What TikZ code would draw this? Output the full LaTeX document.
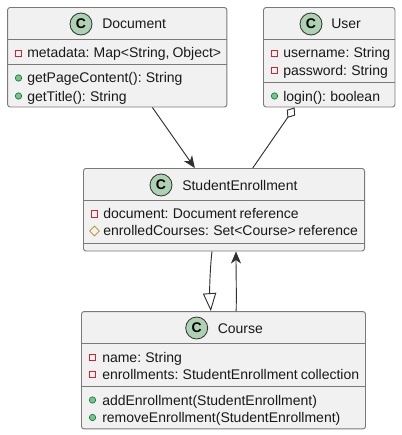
\documentclass[tikz,border=0pt]{standalone}
\usepackage{fontspec}
\setmainfont{Liberation Sans}
\newfontfamily\memberfam[WordSpace=0.75]{Liberation Sans}
\usetikzlibrary{arrows.meta, shapes.geometric}
\definecolor{boxfill}{HTML}{F1F1F1}
\definecolor{boxline}{HTML}{7A7A7A}
\definecolor{spotfill}{HTML}{ADD1B2}
\definecolor{privred}{HTML}{C82930}
\definecolor{pubgreen}{HTML}{84BE84}
\definecolor{publine}{HTML}{038048}
\definecolor{protgold}{HTML}{B38D22}
\definecolor{linkcol}{HTML}{303030}
\begin{document}
\begin{tikzpicture}[x=0.75pt, y=-0.75pt,
  main/.style = {draw=boxline, fill=boxfill, line width=0.7pt, rounded corners=1.9pt, inner sep=0pt},
  sep/.style = {draw=boxline, line width=0.7pt},
  spot/.style = {draw=linkcol, fill=spotfill, circle, line width=0.6pt, minimum size=16.5pt, inner sep=0pt, font=\fontsize{10.5}{12}\bfseries},
  title/.style = {anchor=base west, inner sep=0pt, text=black!90, font=\fontsize{10.5}{12}\selectfont},
  member/.style = {anchor=base west, inner sep=0pt, text=black!90, font=\memberfam\fontsize{10.5}{12}\selectfont},
  priv/.style = {draw=privred, rectangle, line width=0.6pt, minimum size=4.8pt, inner sep=0pt},
  pub/.style = {draw=publine, fill=pubgreen, circle, line width=0.5pt, minimum size=4.8pt, inner sep=0pt},
  prot/.style = {draw=protgold, diamond, aspect=1, line width=0.6pt, minimum size=7.5pt, inner sep=0pt},
  link/.style = {draw=linkcol, line width=0.7pt}]
\useasboundingbox (0,0) rectangle (401,435);

\node[main, minimum width=164.5pt, minimum height=74.6pt] (doc) at (117.25,57.25) {};
\node[spot] (docC) at (81,24) {C};
\node[title] (docT) at (102,29) {Document};
\draw[sep] (doc.west |- 0,39.5) -- (doc.east |- 0,39.5);
\node[priv] (doc1) at (18.5,53.5) {};
\node[member] (docM) at (27,58) {metadata: Map<String, Object>};
\draw[sep] (doc.west |- 0,64.5) -- (doc.east |- 0,64.5);
\node[pub] (doc2) at (18.5,78) {};
\node[member] (docP) at (27,83) {getPageContent(): String};
\node[pub] (doc3) at (18.5,96) {};
\node[member] (docG) at (27,101) {getTitle(): String};

\node[main, minimum width=98.6pt, minimum height=74.6pt] (usr) at (329.25,57.25) {};
\node[spot] (usrC) at (311,24) {C};
\node[title] (usrT) at (331,29) {User};
\draw[sep] (usr.west |- 0,39.5) -- (usr.east |- 0,39.5);
\node[priv] (usr1) at (274.5,53.5) {};
\node[member] (usrN) at (283,58) {username: String};
\node[priv] (usr2) at (274.5,70.5) {};
\node[member] (usrW) at (283,75) {password: String};
\draw[sep] (usr.west |- 0,82) -- (usr.east |- 0,82);
\node[pub] (usr3) at (274.5,96) {};
\node[member] (usrL) at (283,101) {login(): boolean};

\node[main, minimum width=210.8pt, minimum height=61.9pt] (enr) at (224,209.75) {};
\node[spot] (enrC) at (161,185) {C};
\node[title] (enrT) at (182,190) {StudentEnrollment};
\draw[sep] (enr.west |- 0,200.5) -- (enr.east |- 0,200.5);
\node[priv] (enr1) at (94.5,214) {};
\node[member] (enrD) at (103,218.5) {document: Document reference};
\node[prot] (enr2) at (94.5,231) {};
\node[member] (enrS) at (103,235.5) {enrolledCourses: Set<Course> reference};
\draw[sep] (enr.west |- 0,243) -- (enr.east |- 0,243);

\node[main, minimum width=213pt, minimum height=88pt] (crs) at (223.5,370.25) {};
\node[spot] (crsC) at (196.7,328) {C};
\node[title] (crsT) at (217.5,333) {Course};
\draw[sep] (crs.west |- 0,343.5) -- (crs.east |- 0,343.5);
\node[priv] (crs1) at (92.5,357.5) {};
\node[member] (crsN) at (102,362) {name: String};
\node[priv] (crs2) at (92.5,374.5) {};
\node[member] (crsE) at (102,379) {enrollments: StudentEnrollment collection};
\draw[sep] (crs.west |- 0,386) -- (crs.east |- 0,386);
\node[pub] (crs3) at (92.5,400) {};
\node[member] (crsA) at (102,405) {addEnrollment(StudentEnrollment)};
\node[pub] (crs4) at (92.5,417.5) {};
\node[member] (crsR) at (102,422.5) {removeEnrollment(StudentEnrollment)};

\draw[link, -{Stealth[length=9pt, width=7.5pt, inset=2.6pt]}] (doc) -- (enr);
\draw[link, {Diamond[open, fill=white, length=9.5pt, width=7.5pt]}-] (usr) -- (enr);
\draw[link, -{Triangle[open, fill=white, length=13.5pt, width=10pt]}]
  ([xshift=-9pt]enr.south) .. controls +(-1.5pt,-12pt) and +(-1pt,14pt) .. ([xshift=-9.5pt]crs.north);
\draw[link, -{Stealth[length=9pt, width=7.5pt, inset=2.6pt]}]
  ([xshift=9.5pt]crs.north) .. controls +(0.3pt,14pt) and +(0pt,-14pt) .. ([xshift=9pt]enr.south);
\end{tikzpicture}
\end{document}
